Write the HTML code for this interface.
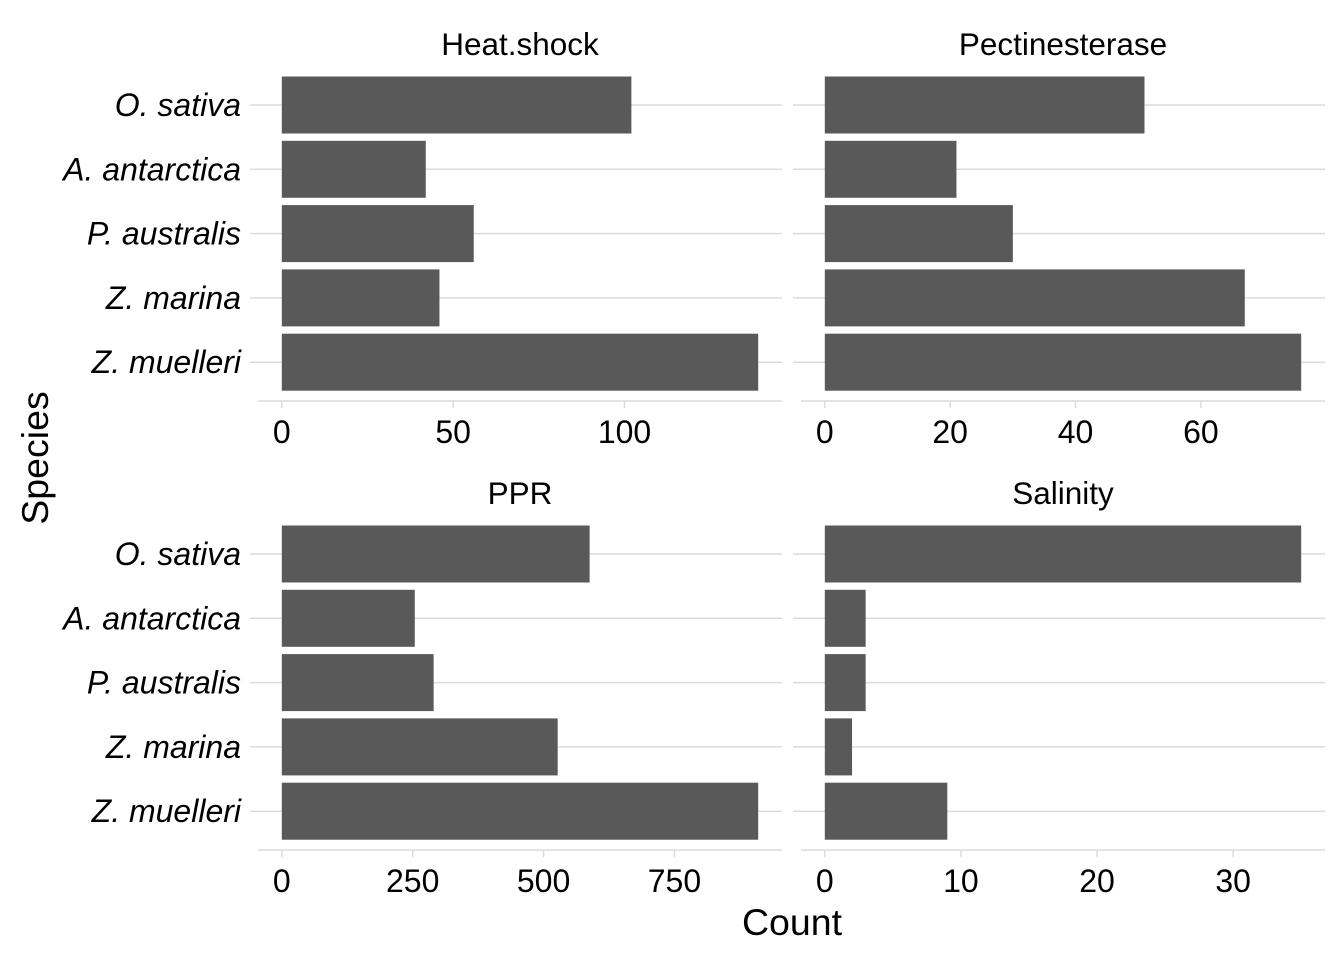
<!DOCTYPE html>
<html><head><meta charset="utf-8"><style>
body{margin:0;background:#fff;}
svg{display:block;font-family:"Liberation Sans",Arial,sans-serif;}
</style></head><body>
<svg id="chart" width="1344" height="960"></svg>
<script>
const species = ["O. sativa","A. antarctica","P. australis","Z. marina","Z. muelleri"];
const panelTitles = ["Heat.shock","Pectinesterase","PPR","Salinity"];
const heatShockValues = [102,42,56,46,139];
const pectinesteraseValues = [51,21,30,67,76];
const pprValues = [588,254,290,527,910];
const salinityValues = [35,3,3,2,9];
const heatShockTicks = [0,50,100];
const pectinesteraseTicks = [0,20,40,60];
const pprTicks = [0,250,500,750];
const salinityTicks = [0,10,20,30];

const NS="http://www.w3.org/2000/svg";
const svg=document.getElementById('chart');
function mk(tag,attrs,parent){const e=document.createElementNS(NS,tag);for(const k in attrs)e.setAttribute(k,attrs[k]);(parent||svg).appendChild(e);return e;}

const panels=[
 {vals:heatShockValues,ticks:heatShockTicks,x0:258,x1:782,top:73,name:'heat-shock'},
 {vals:pectinesteraseValues,ticks:pectinesteraseTicks,x0:801,x1:1325,top:73,name:'pectinesterase'},
 {vals:pprValues,ticks:pprTicks,x0:258,x1:782,top:522,name:'ppr'},
 {vals:salinityValues,ticks:salinityTicks,x0:801,x1:1325,top:522,name:'salinity'}
];
panels.forEach((p,pi)=>{
 const g=mk('g',{});
 
 
 const mx=Math.max(...p.vals);
 const lo=-0.05*mx, hi=1.05*mx;
 const xs=v=>p.x0+(v-lo)/(hi-lo)*(p.x1-p.x0);
 const step=64.3;
 const yc=i=>p.top+32+step*i;
 const left=pi%2===0;
 const t=mk('text',{x:(p.x0+p.x1)/2,y:p.top-18,'text-anchor':'middle','font-size':31.5,fill:'#000'},g);
 t.textContent=panelTitles[pi];
 
 
 species.forEach((s,i)=>{
  const l=mk('line',{x1:p.x0-8,x2:p.x1,y1:yc(i),y2:yc(i),stroke:'#dcdcdc','stroke-width':1.5},g);
  
  
 });
 p.vals.forEach((v,i)=>{
  const r=mk('rect',{x:xs(0),y:yc(i)-28.5,width:xs(v)-xs(0),height:57,fill:'#595959'},g);
  
  
  if(left){
   const lb=mk('text',{x:241,y:yc(i)+11,'text-anchor':'end','font-size':32,'font-style':'italic',fill:'#000'},g);
   lb.textContent=species[i];
   
   
  }
 });
 const axY=p.top+328;
 const ax=mk('line',{x1:p.x0,x2:p.x1,y1:axY,y2:axY,stroke:'#dcdcdc','stroke-width':1.5},g);
 
 
 p.ticks.forEach(tv=>{
  const tk=mk('line',{x1:xs(tv),x2:xs(tv),y1:axY,y2:axY+7,stroke:'#dcdcdc','stroke-width':1.5},g);
  
  
  const tl=mk('text',{x:xs(tv),y:axY+42,'text-anchor':'middle','font-size':32,fill:'#000'},g);
  tl.textContent=tv;
  
  
 });
});
const xt=mk('text',{x:792,y:935,'text-anchor':'middle','font-size':37.5,fill:'#000'});
xt.textContent='Count';


const yt=mk('text',{x:0,y:0,'text-anchor':'middle','font-size':37.5,fill:'#000',transform:'translate(48,458) rotate(-90)'});
yt.textContent='Species';


</script>
</body></html>
